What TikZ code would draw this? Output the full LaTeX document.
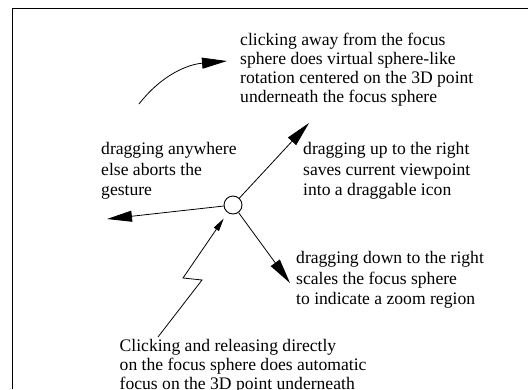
\documentclass[tikz,border=0pt]{standalone}
\usepackage{fontspec}
\setmainfont{Liberation Serif}
\usetikzlibrary{arrows.meta}
\begin{document}
\begin{tikzpicture}[x=1pt,y=1pt,
  lbl/.style={anchor=north west,inner sep=0pt,align=left,font=\fontsize{17.6}{19}\selectfont},
  lblw/.style={lbl,font=\fontsize{17.6}{20.7}\selectfont},
  bigarrow/.style={line width=0.8pt,-{Triangle[length=25pt,width=11pt]}},
  smallarrow/.style={line width=0.8pt,-{Triangle[length=13pt,width=6pt]}},
  frame/.style={line width=1.3pt}]
\useasboundingbox (0,0) rectangle (528,-389);
\coordinate (fa) at (12.5,-389);
\coordinate (fb) at (12.5,-8.5);
\coordinate (fc) at (528,-8.5);
\draw[frame] (fa) -- (fb) -- (fc);
\node[draw,circle,minimum size=18pt,inner sep=0pt,line width=0.9pt] (s) at (233,-205) {};
\coordinate (tur) at (309,-123);
\coordinate (tl) at (107,-219);
\coordinate (tdr) at (290,-283);
\draw[bigarrow] (s) -- (tur);
\draw[bigarrow] (s) -- (tl);
\draw[bigarrow] (s) -- (tdr);
\coordinate (l0) at (158,-337);
\coordinate (l1) at (202,-280);
\coordinate (l2) at (183,-278);
\draw[smallarrow,shorten >=7pt] (l0) -- (l1) -- (l2) -- (s);
\coordinate (c0) at (139,-104);
\coordinate (c1) at (227,-61);
\draw[bigarrow] (c0) to[out=52,in=185] (c1);
\node[lbl] (t1) at (240,-33) {clicking away from the focus\\sphere does virtual sphere-like\\rotation centered on the 3D point\\underneath the focus sphere};
\node[lblw] (t2) at (101,-142) {dragging anywhere\\else aborts the\\gesture};
\node[lblw] (t3) at (303,-142) {dragging up to the right\\saves current viewpoint\\into a draggable icon};
\node[lblw] (t4) at (296,-251) {dragging down to the right\\scales the focus sphere\\to indicate a zoom region};
\node[lbl] (t5) at (119.5,-339) {Clicking and releasing directly\\on the focus sphere does automatic\\focus on the 3D point underneath};
\end{tikzpicture}
\end{document}
